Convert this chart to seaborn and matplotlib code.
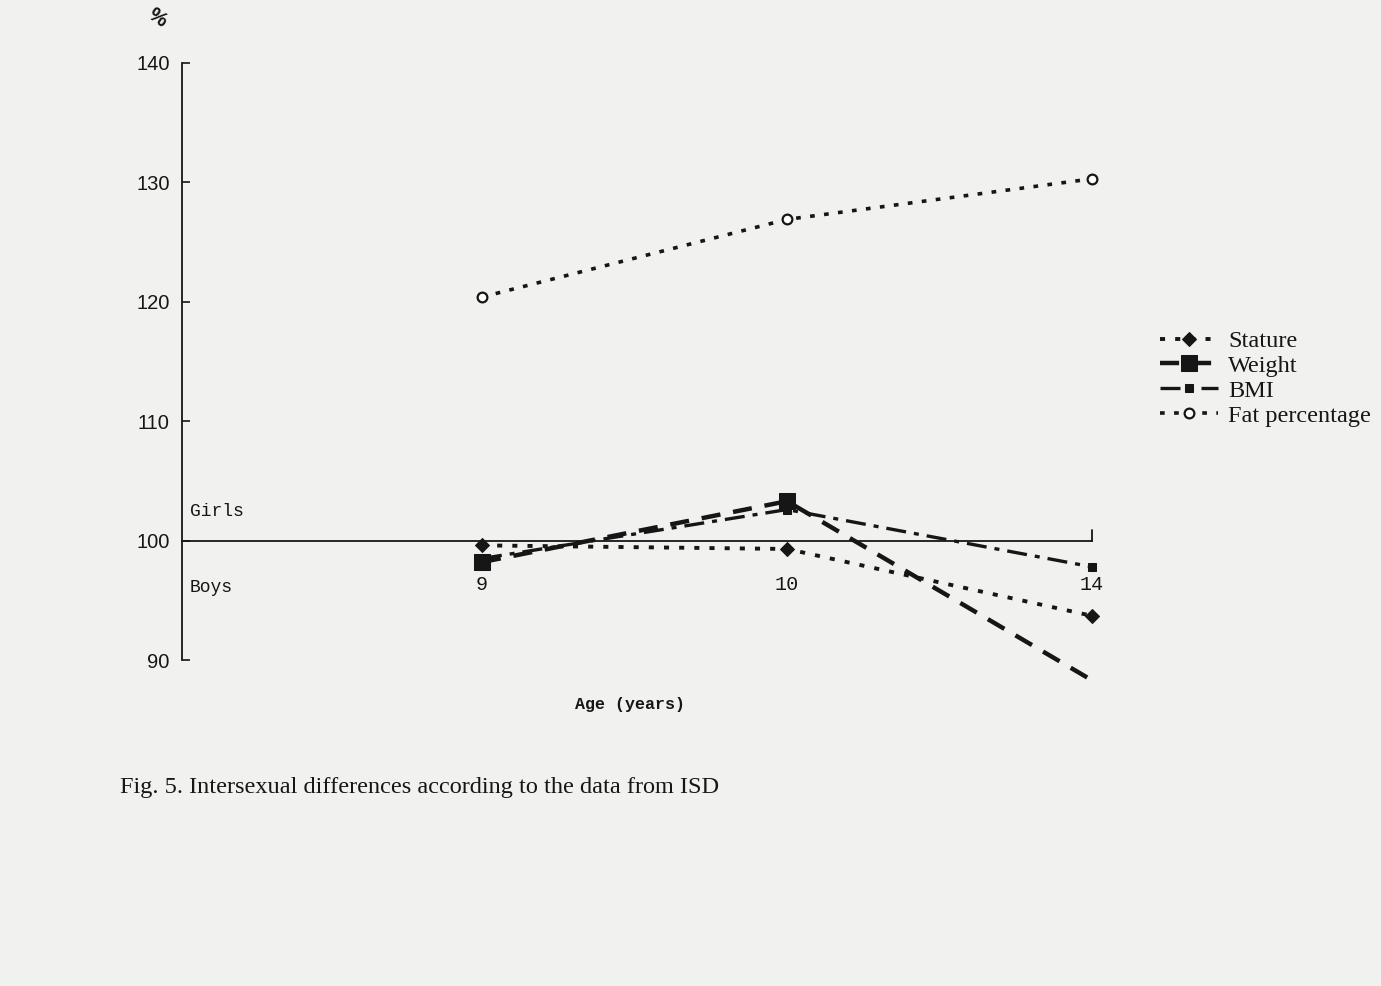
import matplotlib
matplotlib.use("Agg")
import matplotlib.pyplot as plt
import seaborn as sns
import pandas as pd

# ---- data ----
ages = ["9", "10", "14"]
stature = [99.6, 99.3, 93.7]
weight = [98.2, 103.3, 88.3]
bmi = [98.5, 102.6, 97.8]
fat_percentage = [120.4, 126.9, 130.3]
y_ticks = [90, 100, 110, 120, 130, 140]

sns.set_theme(style="white")
plt.rcParams["font.family"] = ["Liberation Sans", "DejaVu Sans"]

BG = "#f1f1ef"
INK = "#161616"

W, H = 1381, 986
fig = plt.figure(figsize=(W / 100, H / 100), dpi=100, facecolor=BG)

# axes placement (pixel-based)
ax_left_px, ax_right_px = 182, 1110
ax_top_px = 63
y_lo, y_hi = 86, 140
px_per_unit = 11.94
ax_bottom_px = ax_top_px + (y_hi - y_lo) * px_per_unit
ax = fig.add_axes([ax_left_px / W, 1 - ax_bottom_px / H,
                   (ax_right_px - ax_left_px) / W, (ax_bottom_px - ax_top_px) / H])
ax.set_facecolor(BG)

pos = list(range(len(ages)))
x0 = (ax_left_px - 482) / 305
x1 = (ax_right_px - 482) / 305
ax.set_xlim(x0, x1)
ax.set_ylim(y_lo, y_hi)

df = pd.DataFrame({"pos": pos, "Stature": stature, "Weight": weight,
                   "BMI": bmi, "Fat percentage": fat_percentage})

sns.lineplot(data=df, x="pos", y="Stature", ax=ax, color=INK, lw=2.8,
             linestyle=(0, (1.3, 2.6)), marker="D", markersize=7,
             markeredgecolor=INK, markerfacecolor=INK, label="Stature",
             clip_on=False)
sns.lineplot(data=df, x="pos", y="Weight", ax=ax, color=INK, lw=3.2,
             linestyle=(0, (4.3, 2.9)), marker="s", markersize=12,
             markeredgecolor=INK, markerfacecolor=INK, markevery=[0, 1],
             label="Weight", clip_on=False)
sns.lineplot(data=df, x="pos", y="BMI", ax=ax, color=INK, lw=2.4,
             linestyle=(0, (6.0, 2.4, 1.5, 2.4)), marker="s", markersize=6,
             markeredgecolor=INK, markerfacecolor=INK, label="BMI",
             clip_on=False)
sns.lineplot(data=df, x="pos", y="Fat percentage", ax=ax, color=INK, lw=2.6,
             linestyle=(0, (1.3, 2.6)), marker="o", markersize=7,
             markeredgecolor=INK, markerfacecolor="white", markeredgewidth=1.6,
             label="Fat percentage", clip_on=False)

# spines / axes
for s in ["top", "right"]:
    ax.spines[s].set_visible(False)
ax.spines["left"].set_bounds(90, 140)
ax.spines["left"].set_color(INK)
ax.spines["left"].set_linewidth(1.3)
ax.spines["bottom"].set_position(("data", 100))
ax.spines["bottom"].set_bounds(x0, 2)
ax.spines["bottom"].set_color(INK)
ax.spines["bottom"].set_linewidth(1.3)

ax.set_yticks(y_ticks)
ax.set_yticklabels([str(t) for t in y_ticks])
ax.tick_params(axis="y", direction="in", length=6, width=1.2, color=INK,
               pad=9, labelsize=14.5, labelcolor=INK, left=True)
ax.set_xticks(pos)
ax.set_xticklabels(ages, family=["Liberation Mono", "DejaVu Sans Mono"])
ax.tick_params(axis="x", length=0, pad=25, labelsize=14.5, labelcolor=INK)
# end tick at the right of the 100 line
ax.plot([2, 2], [100, 100.9], color=INK, lw=1.3, clip_on=False)
ax.set_xlabel("")
ax.set_ylabel("")

# Girls / Boys
ax.text(-0.957, 102.4, "Girls", ha="left", va="center", fontsize=13,
        family=["Liberation Mono", "DejaVu Sans Mono"], color=INK)
ax.text(-0.957, 96.1, "Boys", ha="left", va="center", fontsize=13,
        family=["Liberation Mono", "DejaVu Sans Mono"], color=INK)

# % sign
fig.text(157 / W, 1 - 18 / H, "%", ha="center", va="center", fontsize=15,
         fontweight="bold", rotation=-35, color=INK)

# axis title
fig.text(630 / W, 1 - 705 / H, "Age (years)", ha="center", va="center",
         fontsize=12, fontweight="bold",
         family=["Liberation Mono", "DejaVu Sans Mono"], color=INK)

# caption
fig.text(120 / W, 1 - 788 / H,
         "Fig. 5. Intersexual differences according to the data from ISD",
         ha="left", va="center", fontsize=17.5,
         family=["Liberation Serif", "DejaVu Serif"], color=INK)

# legend
leg = ax.legend(loc="upper left", bbox_to_anchor=(1160 / W, 1 - 330 / H),
                bbox_transform=fig.transFigure, frameon=False, borderpad=0,
                borderaxespad=0, labelspacing=0.12, handlelength=2.4,
                handletextpad=0.4,
                prop={"family": ["Liberation Serif", "DejaVu Serif"], "size": 17.5})
for t in leg.get_texts():
    t.set_color(INK)

fig.savefig("out.png", dpi=100, facecolor=BG)
